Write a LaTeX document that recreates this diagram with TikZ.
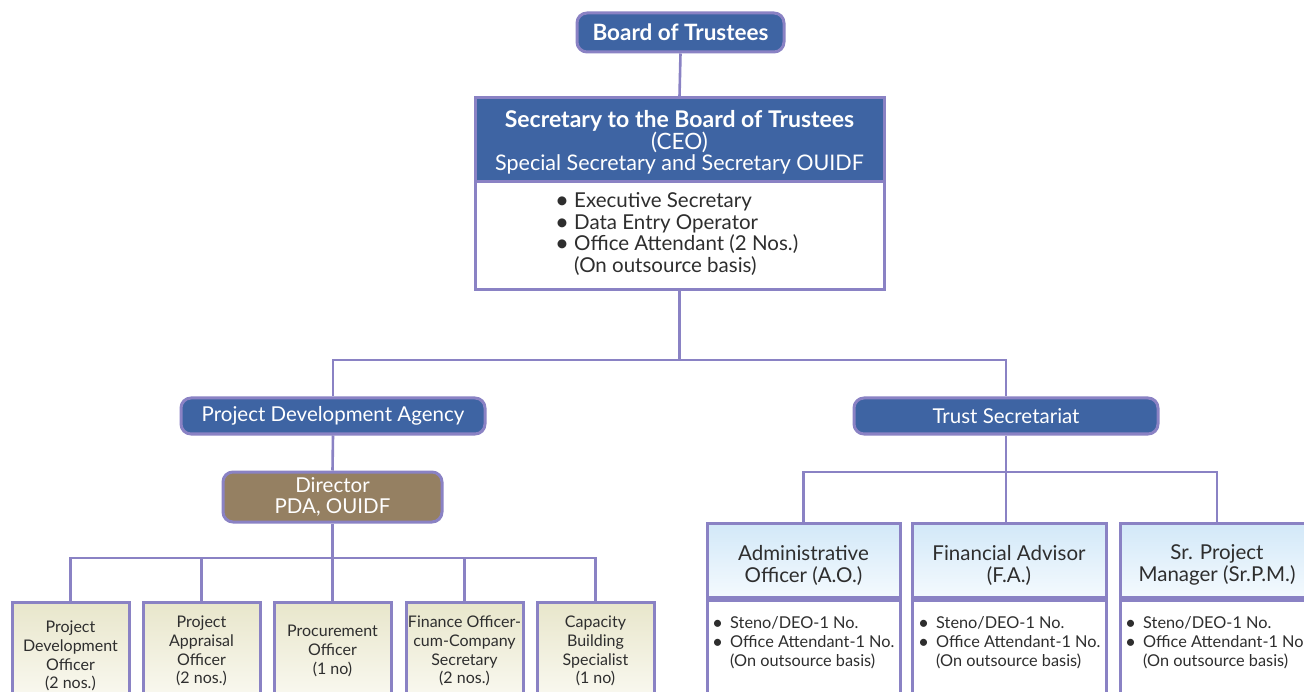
\documentclass[tikz,border=0pt]{standalone}
\usepackage{fontspec}
\setmainfont{Lato}
\definecolor{hdblue}{HTML}{3E64A3}
\definecolor{lav}{HTML}{8A82C4}
\definecolor{brownbox}{HTML}{958062}
\definecolor{cream}{HTML}{E8E6CB}
\definecolor{creamlt}{HTML}{FAF9F1}
\definecolor{skyb}{HTML}{D2E8F8}
\definecolor{skylt}{HTML}{F4FAFE}
\definecolor{txt}{HTML}{2E2E2E}
\newcommand\bulA{\makebox[19pt][l]{\fontsize{24}{20}\selectfont\raisebox{-1pt}{\textbullet}}}
\newcommand\bulB{\makebox[18pt][l]{\fontsize{19}{16}\selectfont\raisebox{-1pt}{\textbullet}}}
\tikzset{
  conn/.style={draw=lav, line width=2.6pt},
  bluepill/.style={draw=lav, line width=3pt, fill=hdblue, rounded corners=10pt, text=white, inner sep=0pt, align=center},
  brownpill/.style={draw=lav, line width=3pt, fill=brownbox, rounded corners=10pt, text=white, inner sep=0pt, align=center},
  bluehead/.style={draw=lav, line width=3pt, fill=hdblue, inner sep=0pt},
  whitebody/.style={draw=lav, line width=3pt, fill=white, inner sep=0pt},
  creambox/.style={draw=lav, line width=3pt, top color=cream, bottom color=creamlt, text=txt, inner sep=0pt, align=center, minimum width=117pt, minimum height=98pt, font=\fontsize{16}{18.7}\selectfont},
  skyhead/.style={draw=lav, line width=3pt, top color=skyb, bottom color=skylt, inner sep=0pt, minimum width=193pt, minimum height=74pt},
  skytext/.style={yshift=-5pt, inner sep=0pt, align=center, text=txt, font=\fontsize{20.5}{22}\selectfont},
  bulltxt/.style={anchor=west, inner sep=0pt, align=left, text=txt, font=\fontsize{16.3}{19}\selectfont},
}
\begin{document}
\begin{tikzpicture}[x=1pt,y=-1pt]
\useasboundingbox (0,0) rectangle (1304,692);
\clip (0,0) rectangle (1304,692);
\fill[white] (0,0) rectangle (1304,692);

% top
\node[bluepill, minimum width=207pt, minimum height=39pt, font=\fontsize{22.5}{24}\selectfont\bfseries] (board) at (680.5,32.5) {Board of Trustees};
\node[bluehead, minimum width=409pt, minimum height=84pt,
  label={[yshift=-2pt, inner sep=0pt, align=center, text=white, font=\fontsize{22.5}{21}\selectfont]center:{{\bfseries\fontsize{23}{21}\selectfont Secretary to the Board of Trustees}\\(CEO)\\\fontsize{21.5}{21}\selectfont Special Secretary and Secretary OUIDF}}] (sechead) at (679.5,140) {};
\node[whitebody, minimum width=409pt, minimum height=108pt] (secbody) at (679.5,236) {};
\node[anchor=west, inner sep=0pt, align=left, text=txt, font=\fontsize{20.5}{21.5}\selectfont] (secbul) at (555,234)
  {\bulA Executive Secretary\\ \bulA Data Entry Operator\\ \bulA Office Attendant (2 Nos.)\\ \hspace*{19pt}(On outsource basis)};

\draw[conn] (board.south) -- (sechead.north);

% second level
\node[bluepill, minimum width=304pt, minimum height=36pt, font=\fontsize{20.5}{21}\selectfont] (pda) at (333,416) {Project Development Agency};
\node[bluepill, minimum width=304pt, minimum height=36pt, font=\fontsize{20.5}{21}\selectfont] (trust) at (1006,416) {Trust Secretariat};
\coordinate (j1) at (682,360);
\draw[conn] (secbody.south) -- (secbody.south |- j1);
\draw[conn] (pda.north) -- (pda.north |- j1) -- (trust.north |- j1) -- (trust.north);

% PDA branch
\node[brownpill, minimum width=219pt, minimum height=50pt, font=\fontsize{20.5}{21}\selectfont] (dir) at (332.5,497) {Director\\PDA, OUIDF};
\draw[conn] (pda.south) -- (dir.north);

\node[creambox, label={[yshift=-5pt, inner sep=0pt, align=center, text=txt, font=\fontsize{16}{18.7}\selectfont]center:{Project\\Development\\Officer\\(2 nos.)}}] (b1) at (70.5,651) {};
\node[creambox] (b2) at (201.5,651) {Project\\Appraisal\\Officer\\(2 nos.)};
\node[creambox] (b3) at (332.5,651) {Procurement\\Officer\\(1 no)};
\node[creambox] (b4) at (464.5,651) {Finance Officer-\\cum-Company\\Secretary\\(2 nos.)};
\node[creambox] (b5) at (595.5,651) {Capacity\\Building\\Specialist\\(1 no)};
\coordinate (j2) at (337,558);
\draw[conn] (dir.south) -- (dir.south |- j2);
\draw[conn] (b1.north) -- (b1.north |- j2) -- (b5.north |- j2) -- (b5.north);
\foreach \b in {b2,b3,b4} \draw[conn] (\b.north) -- (\b.north |- j2);

% Trust branch
\node[skyhead, label={[skytext]center:{Administrative\\Officer (A.O.)}}] (ao) at (803.5,560) {};
\node[skyhead, minimum width=194pt, label={[skytext]center:{Financial Advisor\\(F.A.)}}] (fa) at (1009,560) {};
\node[skyhead, label={[skytext]center:{Sr. Project\\Manager (Sr.P.M.)}}] (pm) at (1217,560) {};
\node[whitebody, minimum width=193pt, minimum height=120pt, anchor=north] (aob) at (ao.south) {};
\node[whitebody, minimum width=194pt, minimum height=120pt, anchor=north] (fab) at (fa.south) {};
\node[whitebody, minimum width=193pt, minimum height=120pt, anchor=north] (pmb) at (pm.south) {};
\node[bulltxt] (aot) at (712,643) {\bulB Steno/DEO-1 No.\\ \bulB Office Attendant-1 No.\\ \hspace*{18pt}(On outsource basis)};
\node[bulltxt] (fat) at (918,643) {\bulB Steno/DEO-1 No.\\ \bulB Office Attendant-1 No.\\ \hspace*{18pt}(On outsource basis)};
\node[bulltxt] (pmt) at (1125,643) {\bulB Steno/DEO-1 No.\\ \bulB Office Attendant-1 No.\\ \hspace*{18pt}(On outsource basis)};

\coordinate (j3) at (1007,472);
\draw[conn] (trust.south) -- (trust.south |- fa.north);
\draw[conn] (ao.north) -- (ao.north |- j3) -- (pm.north |- j3) -- (pm.north);
\end{tikzpicture}
\end{document}
